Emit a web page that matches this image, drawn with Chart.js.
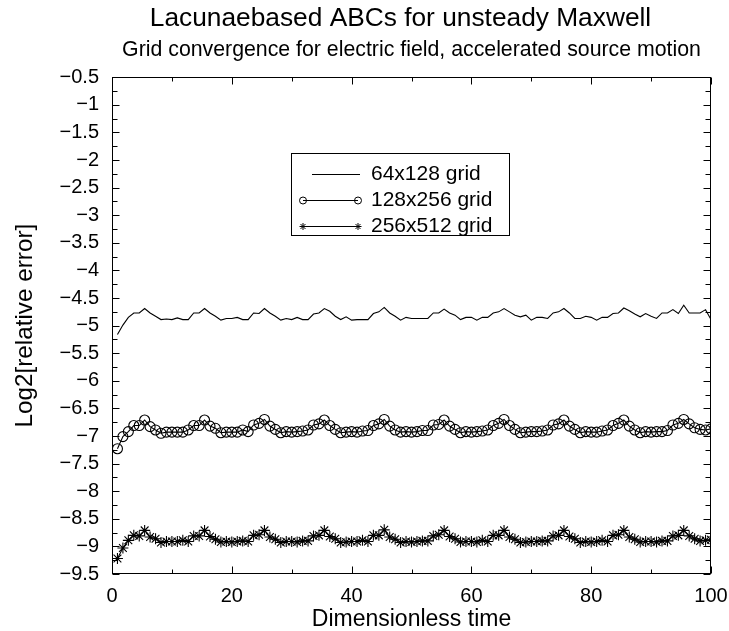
<!DOCTYPE html>
<html lang="en">
<head>
    <meta charset="UTF-8">
    <title>Lacunaebased ABCs for unsteady Maxwell</title>
    <style>
        html, body {
            margin: 0;
            padding: 0;
            background: #fff;
        }
        #wrap {
            width: 729px;
            height: 631px;
        }
    </style>
    <script src="https://cdn.jsdelivr.net/npm/chart.js"></script>
</head>
<body>
    <div id="wrap">
        <canvas id="errChart" width="729" height="631"></canvas>
    </div>

    <script>
        // sampling times (11 samples per 10 time units)
        const times = [
            0.91, 1.82, 2.73, 3.64, 4.55, 5.45, 6.36, 7.27, 8.18, 9.09, 10,
            10.91, 11.82, 12.73, 13.64, 14.55, 15.45, 16.36, 17.27, 18.18, 19.09, 20,
            20.91, 21.82, 22.73, 23.64, 24.55, 25.45, 26.36, 27.27, 28.18, 29.09, 30,
            30.91, 31.82, 32.73, 33.64, 34.55, 35.45, 36.36, 37.27, 38.18, 39.09, 40,
            40.91, 41.82, 42.73, 43.64, 44.55, 45.45, 46.36, 47.27, 48.18, 49.09, 50,
            50.91, 51.82, 52.73, 53.64, 54.55, 55.45, 56.36, 57.27, 58.18, 59.09, 60,
            60.91, 61.82, 62.73, 63.64, 64.55, 65.45, 66.36, 67.27, 68.18, 69.09, 70,
            70.91, 71.82, 72.73, 73.64, 74.55, 75.45, 76.36, 77.27, 78.18, 79.09, 80,
            80.91, 81.82, 82.73, 83.64, 84.55, 85.45, 86.36, 87.27, 88.18, 89.09, 90,
            90.91, 91.82, 92.73, 93.64, 94.55, 95.45, 96.36, 97.27, 98.18, 99.09, 100
        ];

        const grid64 = [
            -5.16, -4.99, -4.85, -4.77, -4.77, -4.69, -4.77, -4.83, -4.89, -4.88, -4.89,
            -4.86, -4.89, -4.89, -4.77, -4.77, -4.69, -4.77, -4.83, -4.90, -4.87, -4.87,
            -4.85, -4.89, -4.89, -4.77, -4.78, -4.69, -4.77, -4.83, -4.90, -4.87, -4.89,
            -4.85, -4.89, -4.89, -4.79, -4.77, -4.69, -4.74, -4.83, -4.89, -4.84, -4.90,
            -4.89, -4.89, -4.89, -4.78, -4.75, -4.67, -4.77, -4.83, -4.90, -4.85, -4.87,
            -4.87, -4.87, -4.87, -4.77, -4.77, -4.70, -4.77, -4.81, -4.89, -4.85, -4.85,
            -4.90, -4.85, -4.85, -4.77, -4.75, -4.69, -4.75, -4.81, -4.84, -4.81, -4.90,
            -4.85, -4.85, -4.87, -4.77, -4.75, -4.69, -4.77, -4.87, -4.87, -4.83, -4.85,
            -4.90, -4.85, -4.85, -4.78, -4.77, -4.68, -4.73, -4.79, -4.84, -4.78, -4.83,
            -4.87, -4.77, -4.77, -4.71, -4.78, -4.63, -4.77, -4.77, -4.77, -4.71, -4.89
        ];

        const grid128 = [
            -7.23, -7.01, -6.92, -6.81, -6.81, -6.71,
            -6.83, -6.89, -6.95, -6.93, -6.93, -6.93, -6.93, -6.89, -6.81, -6.81, -6.71,
            -6.82, -6.86, -6.94, -6.93, -6.93, -6.93, -6.89, -6.92, -6.80, -6.77, -6.70,
            -6.82, -6.88, -6.94, -6.92, -6.93, -6.92, -6.91, -6.89, -6.80, -6.78, -6.71,
            -6.81, -6.88, -6.94, -6.93, -6.92, -6.93, -6.91, -6.90, -6.81, -6.78, -6.70,
            -6.82, -6.89, -6.93, -6.92, -6.93, -6.92, -6.90, -6.90, -6.80, -6.79, -6.71,
            -6.82, -6.88, -6.94, -6.92, -6.93, -6.92, -6.91, -6.89, -6.81, -6.77, -6.70,
            -6.81, -6.88, -6.94, -6.93, -6.92, -6.92, -6.91, -6.89, -6.80, -6.78, -6.71,
            -6.82, -6.88, -6.94, -6.92, -6.93, -6.93, -6.91, -6.89, -6.81, -6.77, -6.71,
            -6.82, -6.89, -6.94, -6.92, -6.93, -6.92, -6.92, -6.90, -6.80, -6.77, -6.70,
            -6.78, -6.85, -6.88, -6.89, -6.87
        ];

        const grid256 = [
            -9.22, -9.03, -8.89, -8.80, -8.81, -8.71,
            -8.83, -8.86, -8.93, -8.91, -8.91, -8.91, -8.89, -8.91, -8.81, -8.81, -8.71,
            -8.82, -8.87, -8.92, -8.91, -8.92, -8.91, -8.90, -8.91, -8.80, -8.79, -8.71,
            -8.83, -8.87, -8.93, -8.91, -8.91, -8.92, -8.90, -8.90, -8.81, -8.80, -8.71,
            -8.82, -8.86, -8.93, -8.92, -8.91, -8.91, -8.89, -8.91, -8.80, -8.80, -8.70,
            -8.83, -8.87, -8.93, -8.91, -8.92, -8.91, -8.90, -8.90, -8.81, -8.79, -8.71,
            -8.82, -8.86, -8.92, -8.91, -8.91, -8.92, -8.89, -8.91, -8.80, -8.80, -8.71,
            -8.83, -8.87, -8.93, -8.92, -8.91, -8.91, -8.90, -8.90, -8.81, -8.80, -8.71,
            -8.82, -8.86, -8.93, -8.91, -8.92, -8.91, -8.89, -8.91, -8.80, -8.79, -8.71,
            -8.83, -8.87, -8.92, -8.91, -8.91, -8.92, -8.90, -8.90, -8.81, -8.80, -8.71,
            -8.81, -8.86, -8.90, -8.89, -8.88
        ];

        const seriesLabels = ['64x128 grid', '128x256 grid', '256x512 grid'];
        const seriesMarkers = [false, 'circle', 'star'];

        const FONT = "'Liberation Sans', Arial, Helvetica, sans-serif";

        function toPoints(values) {
            return values.map((v, i) => ({ x: times[i], y: v }));
        }

        function drawMarker(ctx, style, cx, cy, r) {
            ctx.beginPath();
            if (style === 'circle') {
                ctx.arc(cx, cy, r, 0, Math.PI * 2);
            } else if (style === 'star') {
                const d = r * Math.SQRT1_2;
                ctx.moveTo(cx - r, cy); ctx.lineTo(cx + r, cy);
                ctx.moveTo(cx, cy - r); ctx.lineTo(cx, cy + r);
                ctx.moveTo(cx - d, cy - d); ctx.lineTo(cx + d, cy + d);
                ctx.moveTo(cx - d, cy + d); ctx.lineTo(cx + d, cy - d);
            }
            ctx.stroke();
        }

        // frame with inward ticks on all four sides, plus the boxed key
        const frameAndKey = {
            id: 'frameAndKey',
            afterLayout(chart) {
                // main title sits a little left of the plot centre
                const tb = chart.titleBlock;
                if (tb) { tb.left -= 11; tb.right -= 11; }
            },
            afterDatasetsDraw(chart) {
                const { ctx, chartArea: a, scales } = chart;
                const xs = scales.x, ys = scales.y;
                ctx.save();
                ctx.strokeStyle = '#000';
                ctx.lineWidth = 1;

                const L = Math.round(a.left) + 0.5, R = Math.round(a.right) - 0.5;
                const T = Math.round(a.top) + 0.5, B = Math.round(a.bottom) - 0.5;
                ctx.strokeRect(L, T, R - L, B - T);

                ctx.beginPath();
                // x ticks: majors from the scale, minors halfway
                const xt = xs.ticks.map(t => t.value);
                xt.forEach((v, i) => {
                    const p = Math.round(xs.getPixelForValue(v)) + 0.5;
                    ctx.moveTo(p, B); ctx.lineTo(p, B - 7);
                    ctx.moveTo(p, T); ctx.lineTo(p, T + 7);
                    if (i < xt.length - 1) {
                        const m = Math.round(xs.getPixelForValue((v + xt[i + 1]) / 2)) + 0.5;
                        ctx.moveTo(m, B); ctx.lineTo(m, B - 4);
                        ctx.moveTo(m, T); ctx.lineTo(m, T + 4);
                    }
                });
                const yt = ys.ticks.map(t => t.value);
                yt.forEach((v, i) => {
                    const p = Math.round(ys.getPixelForValue(v)) + 0.5;
                    ctx.moveTo(L, p); ctx.lineTo(L + 7, p);
                    ctx.moveTo(R, p); ctx.lineTo(R - 7, p);
                    if (i < yt.length - 1) {
                        const m = Math.round(ys.getPixelForValue((v + yt[i + 1]) / 2)) + 0.5;
                        ctx.moveTo(L, m); ctx.lineTo(L + 5, m);
                        ctx.moveTo(R, m); ctx.lineTo(R - 5, m);
                    }
                });
                ctx.stroke();

                // key box
                const bx = 291.5, by = 153.5, bw = 218, bh = 82;
                ctx.fillStyle = '#fff';
                ctx.fillRect(bx, by, bw, bh);
                ctx.strokeRect(bx, by, bw, bh);
                ctx.font = '21px ' + FONT;
                ctx.textBaseline = 'middle';
                ctx.textAlign = 'left';
                ctx.fillStyle = '#000';
                chart.data.datasets.forEach((ds, i) => {
                    const ry = Math.round(174 + i * 26) + 0.5;
                    const marked = ds.pointStyle && ds.pointRadius > 0;
                    const x1 = marked ? 303 : 312, x2 = marked ? 358 : 360;
                    ctx.beginPath();
                    ctx.moveTo(x1, ry); ctx.lineTo(x2, ry);
                    ctx.stroke();
                    if (marked) {
                        drawMarker(ctx, ds.pointStyle, x1, ry, 3.5);
                        drawMarker(ctx, ds.pointStyle, x2, ry, 3.5);
                    }
                    ctx.fillText(ds.label, 371, ry);
                });
                ctx.restore();
            }
        };

        const datasets = [grid64, grid128, grid256].map((vals, i) => ({
            label: seriesLabels[i],
            data: toPoints(vals),
            borderColor: '#000',
            borderWidth: 1.1,
            tension: 0,
            pointStyle: seriesMarkers[i] || 'circle',
            pointRadius: seriesMarkers[i] === 'star' ? 5.5 : (seriesMarkers[i] ? 5 : 0),
            pointBorderColor: '#000',
            pointBackgroundColor: 'rgba(0,0,0,0)',
            pointBorderWidth: 1.1
        }));

        new Chart(document.getElementById('errChart').getContext('2d'), {
            type: 'line',
            data: { datasets: datasets },
            options: {
                responsive: false,
                animation: false,
                layout: { padding: 0 },
                plugins: {
                    legend: { display: false },
                    tooltip: { enabled: false },
                    title: {
                        display: true,
                        fullSize: false,
                        text: 'Lacunaebased ABCs for unsteady Maxwell',
                        color: '#000',
                        font: { family: FONT, size: 26.3, weight: 'normal', lineHeight: 1 },
                        padding: { top: 5.5, bottom: 0 }
                    },
                    subtitle: {
                        display: true,
                        fullSize: false,
                        text: 'Grid convergence for electric field, accelerated source motion',
                        color: '#000',
                        font: { family: FONT, size: 21.3, weight: 'normal', lineHeight: 1 },
                        padding: { top: 7.7, bottom: 16.5 }
                    }
                },
                scales: {
                    x: {
                        type: 'linear',
                        min: 0,
                        max: 100,
                        grid: { display: false, drawTicks: false },
                        border: { display: false },
                        ticks: {
                            stepSize: 20,
                            color: '#000',
                            padding: 10,
                            maxRotation: 0,
                            font: { family: FONT, size: 20 }
                        },
                        title: {
                            display: true,
                            text: 'Dimensionless time',
                            color: '#000',
                            font: { family: FONT, size: 23, lineHeight: 1 },
                            padding: { top: 0, bottom: -0.5 }
                        },
                        afterFit(scale) {
                            scale.height = 57;
                            scale.paddingRight = 18;
                        }
                    },
                    y: {
                        type: 'linear',
                        min: -9.5,
                        max: -0.5,
                        grid: { display: false, drawTicks: false },
                        border: { display: false },
                        ticks: {
                            stepSize: 0.5,
                            color: '#000',
                            padding: 13,
                            font: { family: FONT, size: 20 },
                            callback: v => String(v).replace('-', '\u2212')
                        },
                        title: {
                            display: true,
                            text: 'Log2[relative error]',
                            color: '#000',
                            font: { family: FONT, size: 24.3, lineHeight: 1 },
                            padding: { top: 13, bottom: 0 }
                        },
                        afterFit(scale) { scale.width = 112; }
                    }
                }
            },
            plugins: [frameAndKey]
        });
    </script>
</body>
</html>
